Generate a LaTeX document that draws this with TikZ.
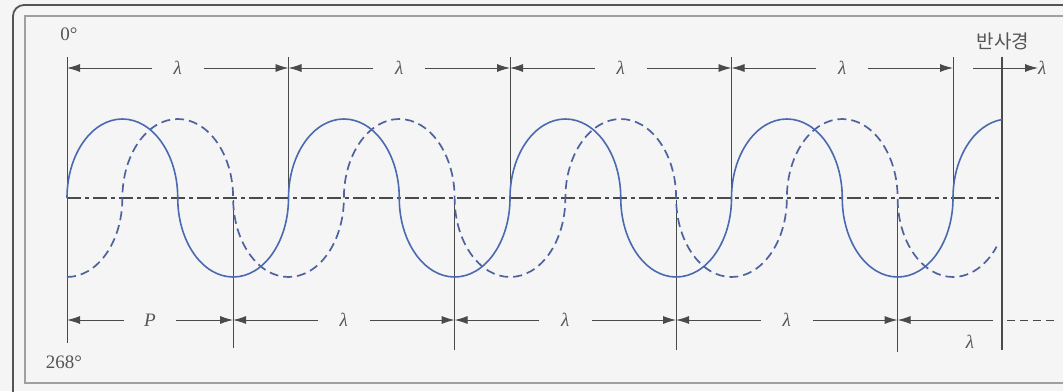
\documentclass[tikz,border=0pt]{standalone}
\usepackage{fontspec}
\setmainfont{Liberation Serif}
\newfontfamily\krfont{Noto Sans CJK KR}
\usetikzlibrary{arrows.meta}
\definecolor{wave}{HTML}{4A69B0}
\definecolor{wavedash}{HTML}{4E639E}
\definecolor{ink}{HTML}{4A4A4A}
\definecolor{txt}{HTML}{555555}
\definecolor{paper}{HTML}{F5F5F5}
\definecolor{frameout}{HTML}{555555}
\definecolor{framein}{HTML}{A0A0A0}
\begin{document}
\begin{tikzpicture}[x=1pt,y=1pt,
  guide/.style={draw=ink, line width=1pt},
  dimarrow/.style={draw=ink, line width=0.9pt, -{Latex[length=13pt,width=8pt]}},
  lab/.style={font=\fontsize{19}{20}\selectfont\itshape, text=txt, inner sep=0pt, minimum width=52pt, minimum height=12pt},
  plain/.style={font=\fontsize{19}{20}\selectfont, text=txt, inner sep=0pt},
  solidwave/.style={draw=wave, line width=1.6pt},
  dashwave/.style={draw=wavedash, line width=1.7pt, dash pattern=on 9pt off 5pt},
  axisline/.style={draw=ink, line width=2pt, dash pattern=on 14pt off 4pt on 4pt off 4pt},
]
\useasboundingbox (0,0) rectangle (1063,-391);
\begin{scope}
\clip (0,0) rectangle (1063,-391);
\fill[paper] (0,0) rectangle (1063,-391);
\draw[frameout, line width=1.8pt, rounded corners=11pt] (13,-5) rectangle (1090,-405);
\draw[framein, line width=1.1pt] (25,-16) rectangle (1085,-383);
\end{scope}

% coordinates: top ticks
\coordinate (t0) at (67,-68);
\coordinate (t1) at (288.5,-68);
\coordinate (t2) at (510,-68);
\coordinate (t3) at (731.5,-68);
\coordinate (t4) at (953,-68);
% bottom ticks
\coordinate (b0) at (67,-320);
\coordinate (b1) at (233.1,-320);
\coordinate (b2) at (454.6,-320);
\coordinate (b3) at (676.1,-320);
\coordinate (b4) at (897.6,-320);
% vertical line ends
\coordinate (v0top) at (67,-57);
\coordinate (v0bot) at (67,-343);
\coordinate (v1top) at (288.5,-57);
\coordinate (v1bot) at (288.5,-198);
\coordinate (v2top) at (510,-57);
\coordinate (v2bot) at (510,-198);
\coordinate (v3top) at (731.5,-57);
\coordinate (v3bot) at (731.5,-198);
\coordinate (v4top) at (953,-57);
\coordinate (v4bot) at (953,-198);
\coordinate (w1top) at (233.1,-200);
\coordinate (w1bot) at (233.1,-348);
\coordinate (w2top) at (454.6,-200);
\coordinate (w2bot) at (454.6,-350);
\coordinate (w3top) at (676.1,-200);
\coordinate (w3bot) at (676.1,-350);
\coordinate (w4top) at (897.6,-205);
\coordinate (w4bot) at (897.6,-352);
\coordinate (mtop) at (1002,-57);
\coordinate (mbot) at (1002,-350);
\coordinate (axL) at (67,-198);
\coordinate (axR) at (1002,-198);

% vertical guide lines
\draw[guide] (v0top) -- (v0bot);
\draw[guide] (v1top) -- (v1bot);
\draw[guide] (v2top) -- (v2bot);
\draw[guide] (v3top) -- (v3bot);
\draw[guide] (v4top) -- (v4bot);
\draw[guide] (w1top) -- (w1bot);
\draw[guide] (w2top) -- (w2bot);
\draw[guide] (w3top) -- (w3bot);
\draw[guide] (w4top) -- (w4bot);
\draw[guide, line width=1.4pt] (mtop) -- (mbot);

% axis
\draw[axisline] (axL) -- (axR);

% dashed wave (shifted by a quarter wavelength)
\draw[dashwave] (67,-277)
  arc[start angle=270, end angle=360, x radius=55.375pt, y radius=79pt]
  \foreach \k in {1,2,3}{
    arc[start angle=180, end angle=0, x radius=55.375pt, y radius=79pt]
    arc[start angle=180, end angle=360, x radius=55.375pt, y radius=79pt]
  }
  arc[start angle=180, end angle=0, x radius=55.375pt, y radius=79pt]
  arc[start angle=180, end angle=322, x radius=55.375pt, y radius=79pt];

% solid wave
\draw[solidwave] (axL)
  \foreach \k in {1,2,3,4}{
    arc[start angle=180, end angle=0, x radius=55.375pt, y radius=79pt]
    arc[start angle=180, end angle=360, x radius=55.375pt, y radius=79pt]
  }
  arc[start angle=180, end angle=96.6, x radius=55.375pt, y radius=79pt];

% top dimension row
\node[lab] (l1) at (177.75,-68) {λ};
\node[lab] (l2) at (399.25,-68) {λ};
\node[lab] (l3) at (620.75,-68) {λ};
\node[lab] (l4) at (842.25,-68) {λ};
\draw[dimarrow] (l1.west) -- (t0);
\draw[dimarrow] (l1.east) -- (t1);
\draw[dimarrow] (l2.west) -- (t1);
\draw[dimarrow] (l2.east) -- (t2);
\draw[dimarrow] (l3.west) -- (t2);
\draw[dimarrow] (l3.east) -- (t3);
\draw[dimarrow] (l4.west) -- (t3);
\draw[dimarrow] (l4.east) -- (t4);
\coordinate (f0) at (973,-68);
\node[lab, minimum width=0pt, anchor=west] (l5) at (1038,-68) {λ};
\draw[dimarrow] (f0) -- (l5.west);

% bottom dimension row
\node[lab] (p1) at (150,-320) {P};
\node[lab] (m1) at (343.85,-320) {λ};
\node[lab] (m2) at (565.35,-320) {λ};
\node[lab] (m3) at (786.85,-320) {λ};
\draw[dimarrow] (p1.west) -- (b0);
\draw[dimarrow] (p1.east) -- (b1);
\draw[dimarrow] (m1.west) -- (b1);
\draw[dimarrow] (m1.east) -- (b2);
\draw[dimarrow] (m2.west) -- (b2);
\draw[dimarrow] (m2.east) -- (b3);
\draw[dimarrow] (m3.west) -- (b3);
\draw[dimarrow] (m3.east) -- (b4);
\coordinate (e1) at (993,-320);
\draw[dimarrow] (e1) -- (b4);
\node[lab, minimum width=0pt] (m4) at (970,-342) {λ};
\coordinate (d0) at (1007,-320);
\coordinate (d1) at (1058,-320);
\draw[guide, line width=0.9pt, dash pattern=on 8pt off 5pt] (d0) -- (d1);

% labels
\node[plain] (zero) at (69,-34) {0°};
\node[plain] (deg) at (64,-362) {268°};
\node[inner sep=0pt, text=txt, font=\krfont\fontsize{19}{20}\selectfont] (mirror) at (1003,-41) {반사경};
\end{tikzpicture}
\end{document}
